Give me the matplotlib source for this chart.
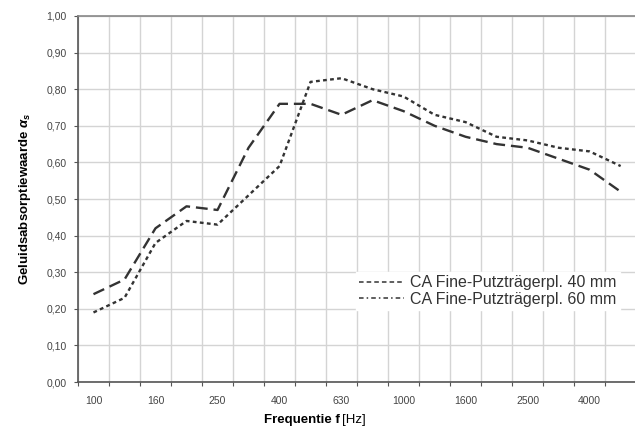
import matplotlib.pyplot as plt
from matplotlib.lines import Line2D

plt.rcParams['font.family'] = ['Liberation Sans', 'DejaVu Sans']
plt.rcParams['mathtext.fontset'] = 'custom'
plt.rcParams['mathtext.it'] = 'Liberation Sans:italic:bold'
plt.rcParams['mathtext.rm'] = 'Liberation Sans:bold'

freqs = ['100', '125', '160', '200', '250', '315', '400', '500', '630', '800',
         '1000', '1250', '1600', '2000', '2500', '3150', '4000', '5000']
alpha_40 = [0.19, 0.23, 0.38, 0.44, 0.43, 0.51, 0.59, 0.82, 0.83, 0.80,
            0.78, 0.73, 0.71, 0.67, 0.66, 0.64, 0.63, 0.59]
alpha_60 = [0.24, 0.28, 0.42, 0.48, 0.47, 0.64, 0.76, 0.76, 0.73, 0.77,
            0.74, 0.70, 0.67, 0.65, 0.64, 0.61, 0.58, 0.52]
labels = ['CA Fine-Putzträgerpl. 40 mm', 'CA Fine-Putzträgerpl. 60 mm']

fig = plt.figure(figsize=(6.35, 4.32), dpi=100)
ax = fig.add_axes([0.1228, 0.1157, 0.879, 0.8473])

x = list(range(len(freqs)))
ax.plot(x, alpha_40, color='#333333', lw=1.7, dashes=(1.6, 1.4))
ax.plot(x, alpha_60, color='#333333', lw=1.7, dashes=(5, 2.5))

ax.set_xlim(-0.5, len(freqs) - 0.5)
ax.set_ylim(0, 1)

# grid on cell boundaries, labels on every other band centre
bounds = [i - 0.5 for i in range(len(freqs) + 1)]
ax.set_xticks(bounds)
ax.set_xticklabels([])
ax.set_xticks(x[::2], minor=True)
ax.set_xticklabels(freqs[::2], minor=True)
ax.tick_params(axis='x', which='minor', length=0, pad=10, labelsize=7.5, labelcolor='#444444')
ax.tick_params(axis='x', which='major', length=3, width=0.8, color='#555555')

yt = [i / 10 for i in range(11)]
ax.set_yticks(yt)
ax.yaxis.set_major_formatter(plt.FuncFormatter(lambda v, p: ('%.2f' % v).replace('.', ',')))
ax.tick_params(axis='y', length=3, width=0.8, color='#555555', labelsize=7.5, labelcolor='#444444', pad=5)

ax.grid(True, which='major', color='#d4d4d4', lw=1)
ax.set_axisbelow(True)

for s in ['left', 'bottom']:
    ax.spines[s].set_color('#555555')
    ax.spines[s].set_linewidth(1.2)
ax.spines['top'].set_color('#888888')
ax.spines['top'].set_linewidth(1.2)
ax.spines['right'].set_visible(False)

ax.set_ylabel('Geluidsabsorptiewaarde $\\alpha_s$', fontsize=9.5, fontweight='bold', labelpad=10)
fig.text(0.535, 0.028, 'Frequentie f', fontsize=9.5, fontweight='bold', ha='right', va='center')
fig.text(0.538, 0.028, '[Hz]', fontsize=9.5, ha='left', va='center')

handles = [Line2D([], [], color='#333333', lw=1.1, linestyle=(0, (3, 2))),
           Line2D([], [], color='#333333', lw=1.1, linestyle=(0, (3, 2, 1, 2)))]
leg = ax.legend(handles, labels, loc='lower right', bbox_to_anchor=(0.985, 0.175),
                frameon=True, fontsize=11.5, handlelength=2.8, handletextpad=0.4,
                borderpad=0.2, labelspacing=0.1, facecolor='white', edgecolor='white',
                framealpha=1, fancybox=False)
for t in leg.get_texts():
    t.set_color('#333333')

fig.savefig('out.png', dpi=100)
